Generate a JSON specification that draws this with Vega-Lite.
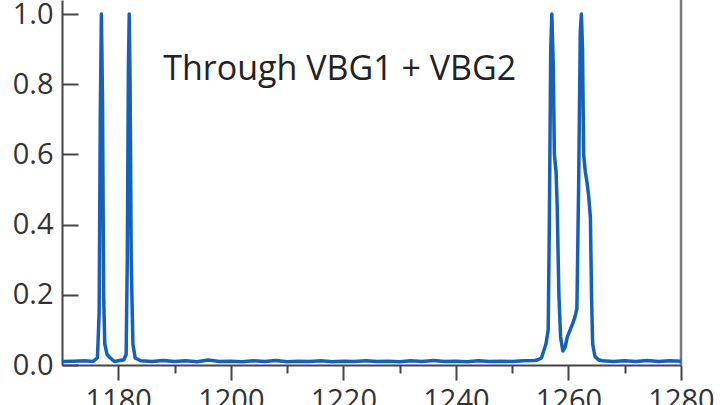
{
  "$schema": "https://vega.github.io/schema/vega-lite/v6.json",
  "autosize": "none",
  "width": 619,
  "height": 365,
  "padding": {"left": 62, "top": 0, "right": 39, "bottom": 40},
  "background": "white",
  "config": {"view": {"stroke": null}},
  "datasets": {
    "spectrum": [
      {"wl": 1170.0, "t": 0.010}, {"wl": 1172.0, "t": 0.011}, {"wl": 1174.0, "t": 0.012},
      {"wl": 1175.5, "t": 0.010}, {"wl": 1176.3, "t": 0.020}, {"wl": 1176.6, "t": 0.150},
      {"wl": 1176.8, "t": 0.700}, {"wl": 1177.0, "t": 1.000}, {"wl": 1177.2, "t": 0.750},
      {"wl": 1177.4, "t": 0.200}, {"wl": 1177.6, "t": 0.060}, {"wl": 1178.0, "t": 0.030},
      {"wl": 1178.6, "t": 0.020}, {"wl": 1179.3, "t": 0.010}, {"wl": 1180.0, "t": 0.012},
      {"wl": 1181.0, "t": 0.015}, {"wl": 1181.4, "t": 0.030}, {"wl": 1181.6, "t": 0.300},
      {"wl": 1181.8, "t": 0.850}, {"wl": 1181.95, "t": 1.000}, {"wl": 1182.1, "t": 0.800},
      {"wl": 1182.3, "t": 0.300}, {"wl": 1182.6, "t": 0.060}, {"wl": 1183.0, "t": 0.020},
      {"wl": 1184.0, "t": 0.012}, {"wl": 1186.0, "t": 0.010}, {"wl": 1188.0, "t": 0.013},
      {"wl": 1190.0, "t": 0.010}, {"wl": 1192.0, "t": 0.012}, {"wl": 1194.0, "t": 0.009},
      {"wl": 1196.0, "t": 0.014}, {"wl": 1198.0, "t": 0.010}, {"wl": 1200.0, "t": 0.011},
      {"wl": 1202.0, "t": 0.009}, {"wl": 1204.0, "t": 0.012}, {"wl": 1206.0, "t": 0.010},
      {"wl": 1208.0, "t": 0.013}, {"wl": 1210.0, "t": 0.009}, {"wl": 1212.0, "t": 0.011},
      {"wl": 1214.0, "t": 0.010}, {"wl": 1216.0, "t": 0.012}, {"wl": 1218.0, "t": 0.009},
      {"wl": 1220.0, "t": 0.011}, {"wl": 1222.0, "t": 0.010}, {"wl": 1224.0, "t": 0.012},
      {"wl": 1226.0, "t": 0.010}, {"wl": 1228.0, "t": 0.011}, {"wl": 1230.0, "t": 0.009},
      {"wl": 1232.0, "t": 0.012}, {"wl": 1234.0, "t": 0.010}, {"wl": 1236.0, "t": 0.013},
      {"wl": 1238.0, "t": 0.010}, {"wl": 1240.0, "t": 0.011}, {"wl": 1242.0, "t": 0.009},
      {"wl": 1244.0, "t": 0.012}, {"wl": 1246.0, "t": 0.010}, {"wl": 1248.0, "t": 0.011},
      {"wl": 1250.0, "t": 0.010}, {"wl": 1252.0, "t": 0.012}, {"wl": 1254.0, "t": 0.013},
      {"wl": 1254.6, "t": 0.015}, {"wl": 1255.2, "t": 0.020}, {"wl": 1255.6, "t": 0.040},
      {"wl": 1256.0, "t": 0.060}, {"wl": 1256.4, "t": 0.100}, {"wl": 1256.6, "t": 0.400},
      {"wl": 1256.85, "t": 0.900}, {"wl": 1257.05, "t": 1.000}, {"wl": 1257.3, "t": 0.850},
      {"wl": 1257.5, "t": 0.600}, {"wl": 1257.8, "t": 0.550}, {"wl": 1258.0, "t": 0.450},
      {"wl": 1258.3, "t": 0.200}, {"wl": 1258.6, "t": 0.080}, {"wl": 1259.0, "t": 0.040},
      {"wl": 1259.4, "t": 0.050}, {"wl": 1259.8, "t": 0.080}, {"wl": 1260.3, "t": 0.100},
      {"wl": 1260.8, "t": 0.120}, {"wl": 1261.2, "t": 0.140}, {"wl": 1261.5, "t": 0.160},
      {"wl": 1261.8, "t": 0.500}, {"wl": 1262.1, "t": 0.950}, {"wl": 1262.3, "t": 1.000},
      {"wl": 1262.5, "t": 0.900}, {"wl": 1262.7, "t": 0.600}, {"wl": 1263.0, "t": 0.550},
      {"wl": 1263.3, "t": 0.520}, {"wl": 1263.6, "t": 0.480}, {"wl": 1263.9, "t": 0.420},
      {"wl": 1264.1, "t": 0.200}, {"wl": 1264.3, "t": 0.060}, {"wl": 1264.7, "t": 0.025},
      {"wl": 1265.3, "t": 0.015}, {"wl": 1266.0, "t": 0.012}, {"wl": 1268.0, "t": 0.010},
      {"wl": 1270.0, "t": 0.012}, {"wl": 1272.0, "t": 0.010}, {"wl": 1274.0, "t": 0.013},
      {"wl": 1276.0, "t": 0.010}, {"wl": 1278.0, "t": 0.012}, {"wl": 1280.0, "t": 0.011}
    ],
    "labels": [{"wl": 1188, "t": 0.812, "label": "Through VBG1 + VBG2"}],
    "frame": [{"wl": 1280}]
  },
  "layer": [
    {
      "data": {"name": "frame"},
      "mark": {"type": "rule", "color": "#7a7a7a", "strokeWidth": 2.5},
      "encoding": {
        "x": {"field": "wl", "type": "quantitative", "scale": {"domain": [1170, 1280], "nice": false, "zero": false}}
      }
    },
    {
      "data": {"name": "spectrum"},
      "mark": {"type": "line", "color": "#1560b8", "strokeWidth": 3.5, "strokeJoin": "round", "clip": true},
      "encoding": {
        "x": {
          "field": "wl", "type": "quantitative",
          "scale": {"domain": [1170, 1280], "nice": false, "zero": false},
          "axis": {
            "title": null,
            "values": [1180, 1190, 1200, 1210, 1220, 1230, 1240, 1250, 1260, 1270, 1280],
            "labelExpr": "datum.value % 20 == 0 ? format(datum.value, 'd') : ''",
            "tickSize": {"condition": {"test": "datum.value % 20 == 0", "value": 15}, "value": 8},
            "labelFont": "Open Sans", "labelFontSize": 29, "labelColor": "#333333",
            "labelPadding": 6, "labelBaseline": "top", "labelFlush": false,
            "domainColor": "#444444", "domainWidth": 2, "tickColor": "#444444", "tickWidth": 2,
            "grid": false
          }
        },
        "y": {
          "field": "t", "type": "quantitative",
          "scale": {"domain": [0, 1.04], "nice": false},
          "axis": {
            "title": null,
            "values": [0, 0.1, 0.2, 0.3, 0.4, 0.5, 0.6, 0.7, 0.8, 0.9, 1.0],
            "labelExpr": "round(datum.value * 10) % 2 == 0 ? format(datum.value, '.1f') : ''",
            "tickSize": {"condition": {"test": "round(datum.value * 10) % 2 == 0", "value": -16}, "value": -10},
            "labelFont": "Open Sans", "labelFontSize": 29, "labelColor": "#333333",
            "labelPadding": 25, "labelFlush": false,
            "domainColor": "#444444", "domainWidth": 2, "tickColor": "#444444", "tickWidth": 2,
            "grid": false
          }
        }
      }
    },
    {
      "data": {"name": "labels"},
      "mark": {"type": "text", "align": "left", "baseline": "alphabetic", "font": "Open Sans", "fontSize": 34, "color": "#222222"},
      "encoding": {
        "x": {"field": "wl", "type": "quantitative"},
        "y": {"field": "t", "type": "quantitative"},
        "text": {"field": "label"}
      }
    }
  ]
}
